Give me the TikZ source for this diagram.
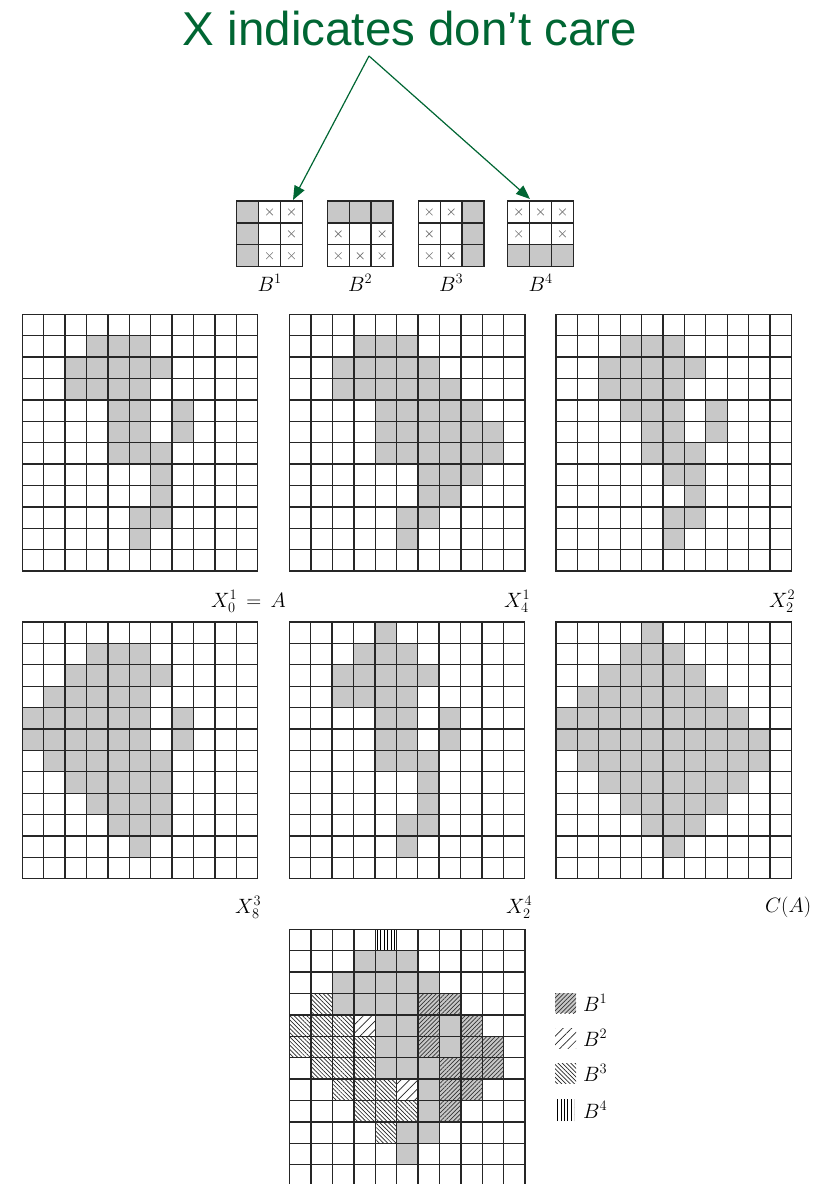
\documentclass[tikz,border=0pt]{standalone}
\usepackage{fontspec}
\newfontfamily\titlefont{Liberation Sans}
\usetikzlibrary{arrows.meta,patterns.meta,calc}
\definecolor{ttl}{RGB}{0,102,51}
\definecolor{cellgray}{RGB}{200,200,200}
\def\csz{21.4}
\def\sez{21.9}
\newcommand\scells[3]{\foreach \q in {#3}{\path[#1] (\q*\csz,#2*\csz) rectangle ++(\csz,\csz);}}
\newcommand\gridlines{%
  \foreach \i in {0,...,11}{\draw[gl] (\i*\csz,0) -- (\i*\csz,12*\csz);}%
  \foreach \j in {0,...,12}{\draw[gl] (0,\j*\csz) -- (11*\csz,\j*\csz);}}
\newcommand\segray[1]{\foreach \a/\b in {#1}{\fill[cellgray] (\a*\sez,\b*\sez) rectangle ++(\sez,\sez);}}
\newcommand\secross[1]{\foreach \a/\b in {#1}{\draw[xmark] ($(\a*\sez,\b*\sez)+(0.5*\sez,0.5*\sez)+(-3.3,-3.3)$) -- ++(6.6,6.6);
  \draw[xmark] ($(\a*\sez,\b*\sez)+(0.5*\sez,0.5*\sez)+(-3.3,3.3)$) -- ++(6.6,-6.6);}}
\newcommand\segrid{%
  \foreach \i in {0,...,3}{\draw[gl] (\i*\sez,0) -- (\i*\sez,3*\sez);}%
  \foreach \j in {0,...,3}{\draw[gl] (0,\j*\sez) -- (3*\sez,\j*\sez);}}
\tikzset{
  x=1pt,y=-1pt,
  gl/.style={line width=1.3pt,draw=black!85,line cap=rect},
  gc/.style={fill=cellgray},
  xmark/.style={line width=0.6pt,draw=black!55},
  bone/.style={fill=cellgray,postaction={pattern={Lines[angle=45,distance=3pt,line width=0.7pt]},pattern color=black!80}},
  btwo/.style={pattern={Lines[angle=45,distance=6pt,line width=0.7pt]},pattern color=black!85},
  bthree/.style={pattern={Lines[angle=-45,distance=3pt,line width=0.7pt]},pattern color=black!85},
  bfour/.style={pattern={Lines[angle=90,distance=3.4pt,line width=0.9pt]},pattern color=black},
  lab/.style={font=\fontsize{21}{24}\selectfont,inner sep=0pt,anchor=base west},
  arr/.style={draw=ttl,line width=1.2pt,-{Triangle[length=14pt,width=11pt]}}
}
\begin{document}
\begin{tikzpicture}
\useasboundingbox (0,0) rectangle (832,1184);
\clip (0,0) rectangle (832,1184);
\fill[white] (0,0) rectangle (832,1184);

% title and arrows
\node[font=\titlefont\fontsize{47.5}{52}\selectfont,text=ttl,inner sep=0pt,anchor=base] (title) at (410,45) {X indicates don’t care};
\coordinate (fork) at (369,56);
\coordinate (tipL) at (293,200);
\coordinate (tipR) at (530,199);
\draw[arr] (fork) -- (tipL);
\draw[arr] (fork) -- (tipR);

% structuring elements
\begin{scope}[shift={(236.7,201)}]
  \segray{0/0,0/1,0/2}\secross{1/0,2/0,2/1,1/2,2/2}\segrid
  \node[lab,anchor=base] (lb1) at (1.5*\sez,90) {$B^1$};
\end{scope}
\begin{scope}[shift={(327.3,201)}]
  \segray{0/0,1/0,2/0}\secross{0/1,2/1,0/2,1/2,2/2}\segrid
  \node[lab,anchor=base] (lb2) at (1.5*\sez,90) {$B^2$};
\end{scope}
\begin{scope}[shift={(418.3,201)}]
  \segray{2/0,2/1,2/2}\secross{0/0,1/0,0/1,0/2,1/2}\segrid
  \node[lab,anchor=base] (lb3) at (1.5*\sez,90) {$B^3$};
\end{scope}
\begin{scope}[shift={(507.7,201)}]
  \segray{0/2,1/2,2/2}\secross{0/0,1/0,2/0,0/1,2/1}\segrid
  \node[lab,anchor=base] (lb4) at (1.5*\sez,90) {$B^4$};
\end{scope}

% X_0^1 = A
\begin{scope}[shift={(22.3,314.3)}]
  \scells{gc}{1}{3,4,5}\scells{gc}{2}{2,...,6}\scells{gc}{3}{2,...,5}
  \scells{gc}{4}{4,5,7}\scells{gc}{5}{4,5,7}\scells{gc}{6}{4,5,6}
  \scells{gc}{7}{6}\scells{gc}{8}{6}\scells{gc}{9}{5,6}\scells{gc}{10}{5}
  \gridlines
\end{scope}
\node[lab] (l1) at (211,607) {$X_0^1\,=\,A$};

% X_4^1
\begin{scope}[shift={(289.7,314.3)}]
  \scells{gc}{1}{3,4,5}\scells{gc}{2}{2,...,6}\scells{gc}{3}{2,...,7}
  \scells{gc}{4}{4,...,8}\scells{gc}{5}{4,...,9}\scells{gc}{6}{4,...,9}
  \scells{gc}{7}{6,7,8}\scells{gc}{8}{6,7}\scells{gc}{9}{5,6}\scells{gc}{10}{5}
  \gridlines
\end{scope}
\node[lab] (l2) at (504,607) {$X_4^1$};

% X_2^2
\begin{scope}[shift={(556,314.3)}]
  \scells{gc}{1}{3,4,5}\scells{gc}{2}{2,...,6}\scells{gc}{3}{2,...,5}
  \scells{gc}{4}{3,4,5,7}\scells{gc}{5}{4,5,7}\scells{gc}{6}{4,5,6}
  \scells{gc}{7}{5,6}\scells{gc}{8}{6}\scells{gc}{9}{5,6}\scells{gc}{10}{5}
  \gridlines
\end{scope}
\node[lab] (l3) at (769,607) {$X_2^2$};

% X_8^3
\begin{scope}[shift={(22.3,622)}]
  \scells{gc}{1}{3,4,5}\scells{gc}{2}{2,...,6}\scells{gc}{3}{1,...,5}
  \scells{gc}{4}{0,...,5,7}\scells{gc}{5}{0,...,5,7}\scells{gc}{6}{1,...,6}
  \scells{gc}{7}{2,...,6}\scells{gc}{8}{3,...,6}\scells{gc}{9}{4,5,6}\scells{gc}{10}{5}
  \gridlines
\end{scope}
\node[lab] (l4) at (235,913) {$X_8^3$};

% X_2^4
\begin{scope}[shift={(289.3,622)}]
  \scells{gc}{0}{4}
  \scells{gc}{1}{3,4,5}\scells{gc}{2}{2,...,6}\scells{gc}{3}{2,...,5}
  \scells{gc}{4}{4,5,7}\scells{gc}{5}{4,5,7}\scells{gc}{6}{4,5,6}
  \scells{gc}{7}{6}\scells{gc}{8}{6}\scells{gc}{9}{5,6}\scells{gc}{10}{5}
  \gridlines
\end{scope}
\node[lab] (l5) at (506,913) {$X_2^4$};

% C(A)
\begin{scope}[shift={(556,622)}]
  \scells{gc}{0}{4}
  \scells{gc}{1}{3,4,5}\scells{gc}{2}{2,...,6}\scells{gc}{3}{1,...,7}
  \scells{gc}{4}{0,...,8}\scells{gc}{5}{0,...,9}\scells{gc}{6}{1,...,9}
  \scells{gc}{7}{2,...,8}\scells{gc}{8}{3,...,7}\scells{gc}{9}{4,5,6}\scells{gc}{10}{5}
  \gridlines
\end{scope}
\node[lab] (l6) at (765,912) {$C(A)$};

% union with hatching
\begin{scope}[shift={(289.7,929.3)}]
  \scells{gc}{1}{3,4,5}\scells{gc}{2}{2,...,6}\scells{gc}{3}{2,...,5}
  \scells{gc}{4}{4,5,7}\scells{gc}{5}{4,5,7}\scells{gc}{6}{4,5,6}
  \scells{gc}{7}{6}\scells{gc}{8}{6}\scells{gc}{9}{5,6}\scells{gc}{10}{5}
  \scells{bone}{3}{6,7}\scells{bone}{4}{6,8}\scells{bone}{5}{6,8,9}
  \scells{bone}{6}{7,8,9}\scells{bone}{7}{7,8}\scells{bone}{8}{7}
  \scells{btwo}{4}{3}\scells{btwo}{7}{5}
  \scells{bthree}{3}{1}\scells{bthree}{4}{0,1,2}\scells{bthree}{5}{0,...,3}
  \scells{bthree}{6}{1,2,3}\scells{bthree}{7}{2,3,4}\scells{bthree}{8}{3,4,5}\scells{bthree}{9}{4}
  \scells{bfour}{0}{4}
  \gridlines
\end{scope}

% legend
\path[bone] (555,993) rectangle (576,1013);
\node[lab,anchor=west] (k1) at (583,1003) {$B^1$};
\path[btwo] (555,1028) rectangle (576,1048);
\node[lab,anchor=west] (k2) at (583,1038) {$B^2$};
\path[bthree] (555,1063) rectangle (576,1083);
\node[lab,anchor=west] (k3) at (583,1073) {$B^3$};
\path[bfour] (555,1099) rectangle (574,1121);
\node[lab,anchor=west] (k4) at (583,1110) {$B^4$};
\end{tikzpicture}
\end{document}
